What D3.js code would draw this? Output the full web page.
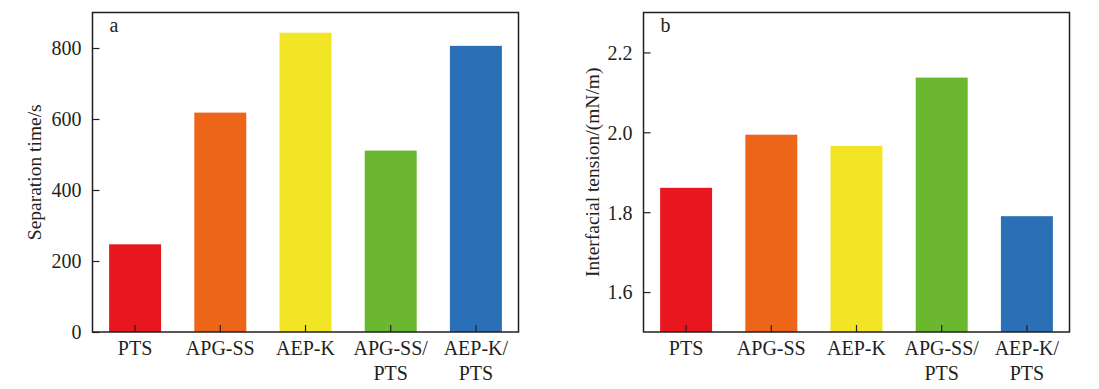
<!DOCTYPE html>
<html>
<head>
<meta charset="utf-8">
<title>Separation time and interfacial tension</title>
<script src="https://cdn.jsdelivr.net/npm/d3@7"></script>
<style>
  body { margin: 0; background: #fff; }
  svg text { font-family: "Liberation Serif", "Times New Roman", serif; fill: #231f20; }
  .axis path, .axis line { stroke: #231f20; }
</style>
</head>
<body>
<script>
// category names (second line after "/")
var categories = ["PTS", "APG-SS", "AEP-K", "APG-SS/PTS", "AEP-K/PTS"];
var barColors = ["#e8161e", "#ec6519", "#f2e526", "#6bb72f", "#2b6fb7"];

// panel a: separation time (s)
var sepTime = [247, 618, 843, 511, 806];
var sepTicks = [0, 200, 400, 600, 800];

// panel b: interfacial tension (mN/m)
var tension = [1.861, 1.994, 1.966, 2.137, 1.790];
var tensionTicks = [1.6, 1.8, 2.0, 2.2];

var width = 1099, height = 389;
var fs = 20;
var svg = d3.select("body").append("svg")
  .attr("width", width)
  .attr("height", height);

function panel(opt) {
  var left = opt.left, right = opt.right, top = 12.5, bottom = 332;

  var x = d3.scaleBand()
    .domain(categories)
    .range([left, right])
    .paddingInner(0.39)
    .paddingOuter(0.195);

  var y = d3.scaleLinear()
    .domain(opt.domain)
    .range([bottom, top]);

  var g = svg.append("g");

  // bars
  g.selectAll("rect.bar")
    .data(opt.values)
    .enter()
    .append("rect")
    .attr("class", "bar")
    .attr("x", function(d, i) { return x(categories[i]); })
    .attr("width", x.bandwidth())
    .attr("y", function(d) { return y(d); })
    .attr("height", function(d) { return bottom - y(d); })
    .attr("fill", function(d, i) { return barColors[i]; });

  // frame
  g.append("rect")
    .attr("x", left)
    .attr("y", top)
    .attr("width", right - left)
    .attr("height", bottom - top)
    .attr("fill", "none")
    .attr("stroke", "#231f20")
    .attr("stroke-width", 1.5);

  // y axis, ticks inward
  var yAxis = d3.axisLeft(y)
    .tickValues(opt.ticks)
    .tickFormat(opt.format)
    .tickSizeInner(-7)
    .tickSizeOuter(0)
    .tickPadding(11);
  var ya = g.append("g")
    .attr("class", "axis")
    .attr("transform", "translate(" + left + ",0)")
    .call(yAxis);
  ya.select(".domain").remove();
  ya.selectAll("line").attr("stroke-width", 1.2);
  ya.selectAll("text")
    .attr("font-size", fs)
    .attr("font-family", "Liberation Serif")
    .attr("dy", "0.34em");

  // x axis, ticks inward
  var xAxis = d3.axisBottom(x)
    .tickSizeInner(-7)
    .tickSizeOuter(0)
    .tickFormat("");
  var xa = g.append("g")
    .attr("class", "axis")
    .attr("transform", "translate(0," + bottom + ")")
    .call(xAxis);
  xa.select(".domain").remove();
  xa.selectAll("line").attr("stroke-width", 1.2);

  // category labels, split after "/"
  var lab = g.selectAll("text.cat")
    .data(categories)
    .enter()
    .append("text")
    .attr("class", "cat")
    .attr("text-anchor", "middle")
    .attr("font-size", fs)
    .attr("x", function(d) { return x(d) + x.bandwidth() / 2; });
  lab.each(function(d) {
    var parts = d.split("/");
    var t = d3.select(this);
    parts.forEach(function(p, k) {
      t.append("tspan")
        .attr("x", t.attr("x"))
        .attr("y", 355 + k * 25)
        .text(k < parts.length - 1 ? p + "/" : p);
    });
  });

  // y title
  g.append("text")
    .attr("transform", "translate(" + opt.titleX + "," + ((top + bottom) / 2) + ") rotate(-90)")
    .attr("text-anchor", "middle")
    .attr("dy", "0.35em")
    .attr("font-size", 19.5)
    .text(opt.title);

  // panel letter
  g.append("text")
    .attr("x", left + 17)
    .attr("y", 32)
    .attr("font-size", fs)
    .text(opt.letter);
}

panel({
  left: 92.5, right: 518.5,
  domain: [0, 900],
  values: sepTime,
  ticks: sepTicks,
  format: d3.format("d"),
  title: "Separation time/s",
  titleX: 34,
  letter: "a"
});

panel({
  left: 643.5, right: 1069.5,
  domain: [1.5, 2.3],
  values: tension,
  ticks: tensionTicks,
  format: d3.format(".1f"),
  title: "Interfacial tension/(mN/m)",
  titleX: 592,
  letter: "b"
});
</script>
</body>
</html>
